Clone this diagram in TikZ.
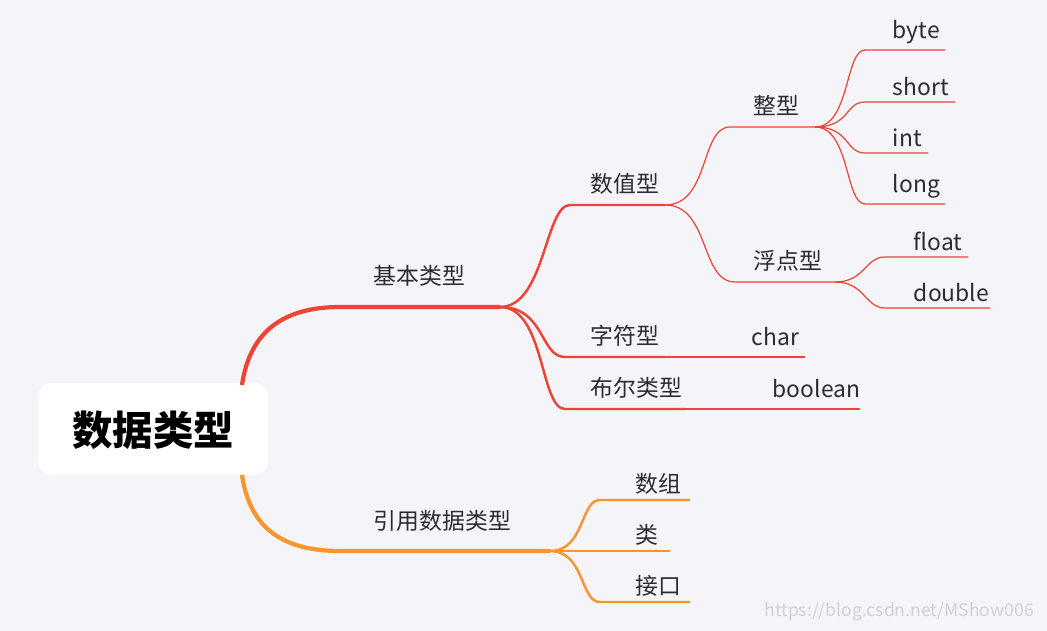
\documentclass[tikz,border=0pt]{standalone}
\usepackage{fontspec}
\setmainfont{Noto Sans CJK SC}
\usetikzlibrary{positioning,calc}
\definecolor{bgc}{HTML}{F5F5F9}
\definecolor{redb}{HTML}{EE4436}
\definecolor{orab}{HTML}{F7952E}
\definecolor{txt}{HTML}{2B2B35}
\begin{document}
\begin{tikzpicture}[
    x=0.02cm, y=-0.02cm,
    font=\large, text=txt,
    lbl/.style ={anchor=south west, inner sep=2pt, font=\fontsize{13}{15}\selectfont},
    main/.style={draw=redb, line width=2.4pt},
    sub/.style ={draw=redb, line width=1.4pt},
    leaf/.style={draw=redb, line width=0.7pt},
    ref/.style ={draw=orab, line width=2.4pt},
    refl/.style={draw=orab, line width=1.4pt}
]
\fill[bgc] (0,0) rectangle (1047,631);

%---- ROOT ------------------------------------------
\fill[white, rounded corners=8pt] (38,383) rectangle (268,475);
\node (root) at (153,430) [font=\bfseries\fontsize{23}{27}\selectfont, text=black] {数据类型};

%---- JUNCTIONS -------------------------------------
\coordinate (rtop) at (242,385);
\coordinate (rbot) at (242,475);
\coordinate (basA) at (340,307); \coordinate (basB) at (500,307);
\coordinate (refA) at (340,551); \coordinate (refB) at (550,551);
\coordinate (numA) at (570,205); \coordinate (numB) at (665,205);
\coordinate (chrA) at (565,357); \coordinate (chrB) at (665,357);
\coordinate (booA) at (565,409); \coordinate (booB) at (685,409);
\coordinate (zxA) at (730,127); \coordinate (zxB) at (815,127);
\coordinate (fdA) at (735,282); \coordinate (fdB) at (835,282);

%---- LABELS ----------------------------------------
\node (bas) [lbl] at (370,290) {基本类型};
\node (ref) [lbl] at (370,535) {引用数据类型};
\node (num) [lbl] at (587,198) {数值型};
\node (chr) [lbl] at (587,350) {字符型};
\node (boo) [lbl] at (587,402) {布尔类型};
\node (zx) [lbl] at (750,120) {整型};
\node (fd) [lbl] at (750,275) {浮点型};

%---- BRANCHES --------------------------------------
\draw[main] (rtop) .. controls (250,330) and (285,307) .. (basA) -- (basB);
\draw[ref]  (rbot) .. controls (250,530) and (285,551) .. (refA) -- (refB);

\draw[sub] (basB) .. controls (545,307) and (545,205) .. (numA) -- (numB);
\draw[sub] (basB) .. controls (545,307) and (540,357) .. (chrA) -- (chrB);
\draw[sub] (basB) .. controls (545,307) and (540,409) .. (booA) -- (booB);
\draw[leaf] (numB) .. controls (710,205) and (700,127) .. (zxA) -- (zxB);
\draw[leaf] (numB) .. controls (710,205) and (700,282) .. (fdA) -- (fdB);

%---- LEAVES ----------------------------------------
\foreach \nm/\yy/\xe in {byte/50/945, short/102/955, int/153/928, long/204/945}{
  \coordinate (lf\nm A) at (865,\yy); \coordinate (lf\nm B) at (\xe,\yy);
  \node (lf\nm) [lbl] at (889,\yy-2) {\nm};
  \draw[leaf] (zxB) .. controls (850,127) and (845,\yy) .. (lf\nm A) -- (lf\nm B);
}
\foreach \nm/\yy/\xe in {float/257/968, double/308/990}{
  \coordinate (lf\nm A) at (885,\yy); \coordinate (lf\nm B) at (\xe,\yy);
  \node (lf\nm) [lbl] at (910,\yy-2) {\nm};
  \draw[leaf] (fdB) .. controls (865,282) and (865,\yy) .. (lf\nm A) -- (lf\nm B);
}
\coordinate (charB) at (805,357);
\coordinate (boolB) at (860,409);
\node (char) [lbl] at (748,350) {char};
\node (bool) [lbl] at (769,402) {boolean};
\draw[leaf] (chrB) -- (charB);
\draw[leaf] (booB) -- (boolB);

\foreach \nm/\yy/\xe/\tx in {arr/500/690/数组, cls/551/670/类, ifc/602/690/接口}{
  \coordinate (\nm A) at (600,\yy); \coordinate (\nm B) at (\xe,\yy);
  \node (\nm) [lbl] at (632,\yy-2) {\tx};
  \draw[refl] (refB) .. controls (585,551) and (580,\yy) .. (\nm A) -- (\nm B);
}

\node (mark) [anchor=east, text=gray!35, font=\fontsize{10}{12}\selectfont] at (1040,612) {https://blog.csdn.net/MShow006};
\end{tikzpicture}
\end{document}
